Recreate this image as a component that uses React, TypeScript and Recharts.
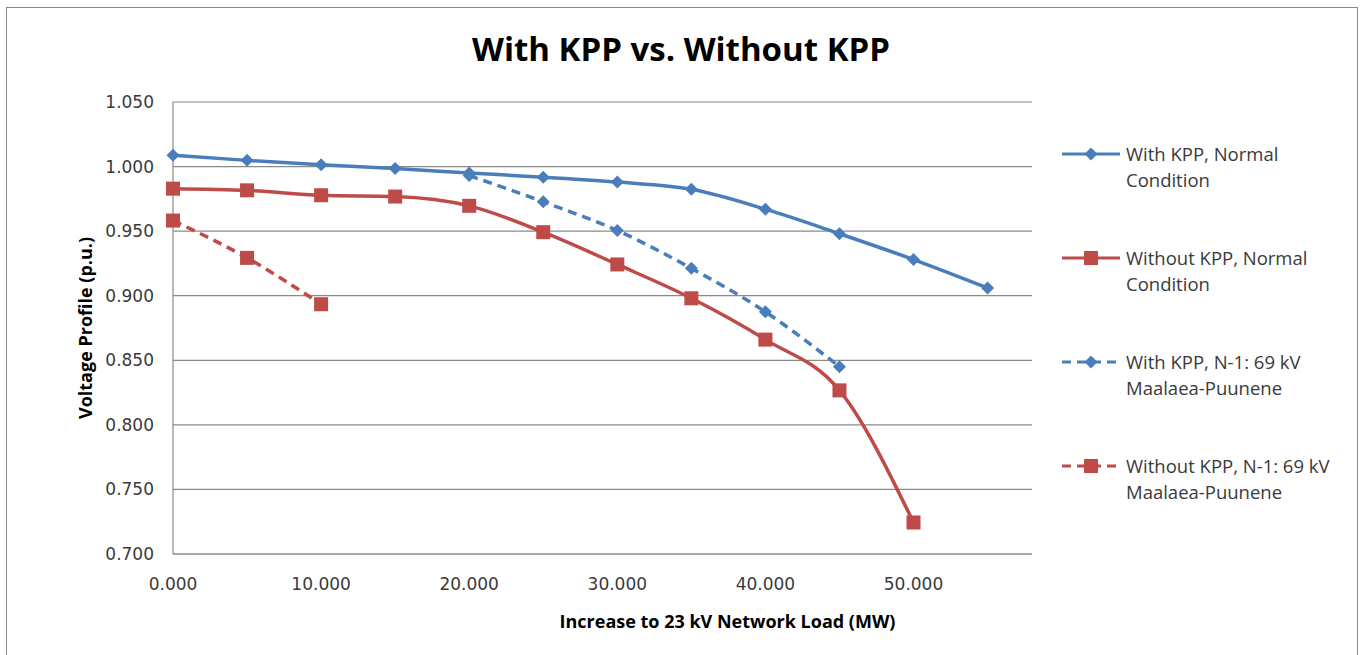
import React from 'react';
import {
  LineChart,
  Line,
  XAxis,
  YAxis,
  CartesianGrid,
} from 'recharts';

// load increase (MW)
const loads = [0, 5, 10, 15, 20, 25, 30, 35, 40, 45, 50, 55];

const withKppNormal = [1.0087, 1.0048, 1.0015, 0.9985, 0.995, 0.9918, 0.988, 0.9824, 0.967, 0.948, 0.928, 0.906];
const withoutKppNormal = [0.9829, 0.9816, 0.9778, 0.9768, 0.9696, 0.9492, 0.9242, 0.898, 0.866, 0.8267, 0.7244, null];
const withKppN1 = [null, null, null, null, 0.993, 0.9727, 0.9505, 0.9212, 0.8875, 0.845, null, null];
const withoutKppN1 = [0.9582, 0.9293, 0.8934, null, null, null, null, null, null, null, null, null];

const xTicks = [0, 10, 20, 30, 40, 50];
const yTicks = [0.7, 0.75, 0.8, 0.85, 0.9, 0.95, 1.0, 1.05];

const BLUE = '#4A7EBB';
const RED = '#BE4B48';

const seriesList = [
  { key: 'wkn', name: 'With KPP, Normal Condition', lines: ['With KPP, Normal', 'Condition'], color: BLUE, dashed: false, shape: 'diamond' },
  { key: 'wokn', name: 'Without KPP, Normal Condition', lines: ['Without KPP, Normal', 'Condition'], color: RED, dashed: false, shape: 'square' },
  { key: 'wk1', name: 'With KPP, N-1: 69 kV Maalaea-Puunene', lines: ['With KPP, N-1: 69 kV', 'Maalaea-Puunene'], color: BLUE, dashed: true, shape: 'diamond' },
  { key: 'wok1', name: 'Without KPP, N-1: 69 kV Maalaea-Puunene', lines: ['Without KPP, N-1: 69 kV', 'Maalaea-Puunene'], color: RED, dashed: true, shape: 'square' },
];

const data = loads.map((x, i) => ({
  x,
  wkn: withKppNormal[i],
  wokn: withoutKppNormal[i],
  wk1: withKppN1[i],
  wok1: withoutKppN1[i],
}));

const fmt = (v: number) => v.toFixed(3);

const Marker = ({ cx, cy, color, shape }: { cx: number; cy: number; color: string; shape: string }) => {
  if (shape === 'diamond') {
    const r = 6.5;
    return <polygon points={`${cx},${cy - r} ${cx + r},${cy} ${cx},${cy + r} ${cx - r},${cy}`} fill={color} />;
  }
  const h = 7;
  return <rect x={cx - h} y={cy - h} width={h * 2} height={h * 2} fill={color} />;
};

const makeDot = (color: string, shape: string) => (props: any) => {
  const { cx, cy, index, value } = props;
  if (cx == null || cy == null || value == null || Number.isNaN(cy)) return <g key={`e-${index}`} />;
  return (
    <g key={`d-${index}`}>
      <Marker cx={cx} cy={cy} color={color} shape={shape} />
    </g>
  );
};

// legend drawn outside the chart so it doesn't eat plot width
const LegendBox = () => (
  <div
    style={{
      position: 'absolute',
      left: 1060,
      top: 141,
      width: 300,
      fontFamily: '"Open Sans", sans-serif',
      fontSize: 18.5,
      color: '#3a3a3a',
    }}
  >
    {seriesList.map((s) => (
      <div key={s.key} style={{ display: 'flex', height: 104, alignItems: 'flex-start' }}>
        <svg width={66} height={26} style={{ flex: 'none' }}>
          <line
            x1={2}
            y1={13}
            x2={60}
            y2={13}
            stroke={s.color}
            strokeWidth={3}
            strokeDasharray={s.dashed ? '9 6' : undefined}
          />
          <Marker cx={31} cy={13} color={s.color} shape={s.shape} />
        </svg>
        <div style={{ lineHeight: '26px' }}>
          {s.lines.map((t) => (
            <div key={t}>{t}</div>
          ))}
        </div>
      </div>
    ))}
  </div>
);

export default function App() {
  return (
    <div style={{ position: 'absolute', left: 0, top: 0, width: 1360, height: 655, background: '#fff' }}>
      <div
        style={{
          position: 'absolute',
          left: 6,
          top: 7,
          width: 1350,
          height: 660,
          border: '1.5px solid #8a8a8a',
          borderBottom: 'none',
        }}
      />
      <div
        style={{
          position: 'absolute',
          left: 0,
          top: 26,
          width: 1362,
          textAlign: 'center',
          fontFamily: '"Open Sans", sans-serif',
          fontWeight: 700,
          fontSize: 33,
          color: '#000',
        }}
      >
        With KPP vs. Without KPP
      </div>
      <div style={{ position: 'absolute', left: 0, top: 0 }}>
        <LineChart
          width={1360}
          height={655}
          data={data}
          margin={{ top: 102, right: 328, left: 0, bottom: 0 }}
        >
          <CartesianGrid vertical={false} stroke="#8a8a8a" strokeWidth={1.2} />
          <XAxis
            dataKey="x"
            type="number"
            domain={[0, 58]}
            ticks={xTicks}
            tickFormatter={fmt}
            height={101}
            tickSize={0}
            tickMargin={24}
            axisLine={{ stroke: '#8a8a8a', strokeWidth: 1.2 }}
            tick={{ fill: '#3a3a3a', fontSize: 17, fontFamily: '"DejaVu Sans", sans-serif' }}
            label={{
              value: 'Increase to 23 kV Network Load (MW)',
              position: 'insideBottom',
              offset: 27,
              dx: 125,
              style: { fill: '#000', fontWeight: 700, fontSize: 18, fontFamily: '"Open Sans", sans-serif' },
            }}
          />
          <YAxis
            type="number"
            domain={[0.7, 1.05]}
            ticks={yTicks}
            tickFormatter={fmt}
            width={173}
            tickSize={0}
            tickMargin={19}
            interval={0}
            axisLine={{ stroke: '#8a8a8a', strokeWidth: 1.2 }}
            tick={{ fill: '#3a3a3a', fontSize: 17, fontFamily: '"DejaVu Sans", sans-serif' }}
            label={{
              value: 'Voltage Profile (p.u.)',
              angle: -90,
              position: 'insideLeft',
              offset: 86,
              style: { textAnchor: 'middle', fill: '#000', fontWeight: 700, fontSize: 18, fontFamily: '"Open Sans", sans-serif' },
            }}
          />
          {seriesList.map((s) => (
            <Line
              key={s.key}
              dataKey={s.key}
              name={s.name}
              type="monotone"
              stroke={s.color}
              strokeWidth={3.5}
              strokeDasharray={s.dashed ? '9 6' : undefined}
              dot={makeDot(s.color, s.shape)}
              activeDot={false}
              isAnimationActive={false}
            />
          ))}
        </LineChart>
      </div>
      <LegendBox />
    </div>
  );
}
